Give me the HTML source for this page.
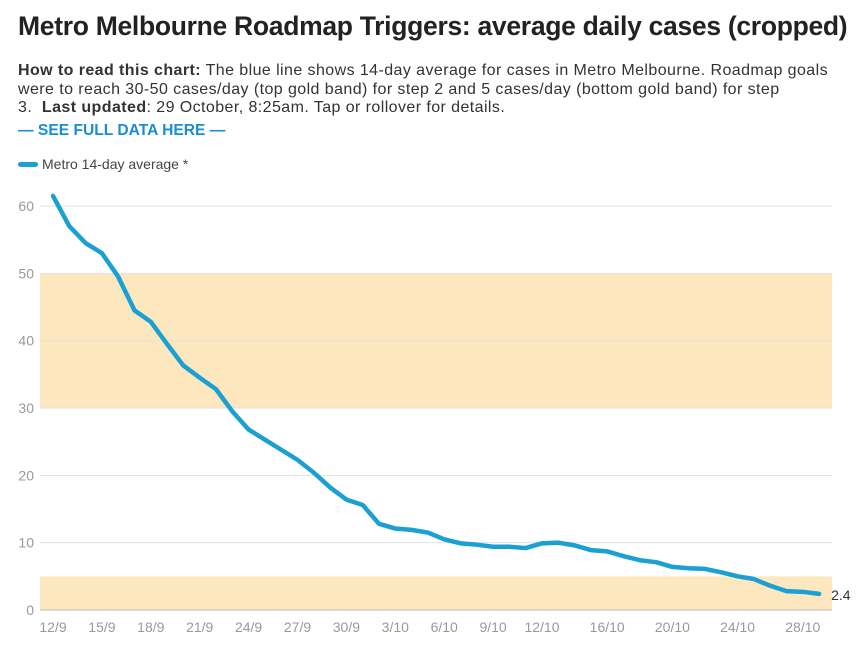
<!DOCTYPE html>
<html><head><meta charset="utf-8"><style>
body{margin:0;background:#fff;font-family:"Liberation Sans",sans-serif;color:#222;width:862px;height:651px;overflow:hidden;position:relative}
#title{position:absolute;left:18px;top:11px;font-size:26.5px;font-weight:bold;color:#222;letter-spacing:-0.3px;white-space:nowrap}
#desc{position:absolute;left:18px;top:62px;font-size:16px;line-height:18.5px;color:#333;white-space:nowrap;letter-spacing:0.42px}
#link{position:absolute;left:18px;top:122px;font-size:15.6px;font-weight:bold;color:#1a8fd0}
#legend{position:absolute;left:18px;top:156px;font-size:14px;color:#444;display:flex;align-items:center}
#legend span.sw{display:inline-block;width:20px;height:5px;border-radius:3px;background:#1aa0d2;margin-right:4px}
svg{position:absolute;left:0;top:0}
</style></head><body>
<div id="title">Metro Melbourne Roadmap Triggers: average daily cases (cropped)</div>
<div id="desc"><b>How to read this chart:</b> The blue line shows 14-day average for cases in Metro Melbourne. Roadmap goals<br>were to reach 30-50 cases/day (top gold band) for step 2 and 5 cases/day (bottom gold band) for step<br>3.&nbsp; <b>Last updated</b>: 29 October, 8:25am. Tap or rollover for details.</div>
<div id="link">— SEE FULL DATA HERE —</div>
<div id="legend"><span class="sw"></span>Metro 14-day average *</div>
<svg id="chart" width="862" height="651"></svg>
<script>
const dates=["12/9","13/9","14/9","15/9","16/9","17/9","18/9","19/9","20/9","21/9","22/9","23/9","24/9","25/9","26/9","27/9","28/9","29/9","30/9","1/10","2/10","3/10","4/10","5/10","6/10","7/10","8/10","9/10","10/10","11/10","12/10","13/10","14/10","15/10","16/10","17/10","18/10","19/10","20/10","21/10","22/10","23/10","24/10","25/10","26/10","27/10","28/10","29/10"];
const values=[61.5,57,54.5,53,49.5,44.5,42.8,39.5,36.3,34.5,32.8,29.5,26.8,25.3,23.8,22.3,20.4,18.2,16.4,15.6,12.8,12.1,11.9,11.5,10.5,9.9,9.7,9.4,9.4,9.2,9.9,10.0,9.6,8.9,8.7,8.0,7.4,7.1,6.4,6.2,6.1,5.6,5.0,4.6,3.6,2.8,2.7,2.4];
const xTicks=["12/9","15/9","18/9","21/9","24/9","27/9","30/9","3/10","6/10","9/10","12/10","16/10","20/10","24/10","28/10"];
const yTicks=[0,10,20,30,40,50,60];
const bands=[[30,50],[0,5]];
const svg=document.getElementById('chart');const NS="http://www.w3.org/2000/svg";
const X0=53,DX=16.3,Y0=610,PY=6.733,L=40,R=832;
const x=i=>X0+i*DX, y=v=>Y0-v*PY;
function mk(t,a,p){const e=document.createElementNS(NS,t);for(const k in a)e.setAttribute(k,a[k]);(p||svg).appendChild(e);return e;}
bands.forEach(b=>{const r=mk('rect',{x:L,y:y(b[1]),width:R-L,height:y(b[0])-y(b[1]),fill:'#fde7bf'});

});
yTicks.forEach(t=>{const g=mk('line',{x1:L,x2:R,y1:y(t),y2:y(t),stroke:t==0?'#bbb':'#e2e2e2','stroke-width':1});


const tx=mk('text',{x:34,y:y(t)+5,'text-anchor':'end','font-size':14,fill:'#999','font-family':'Liberation Sans'});tx.textContent=t;

});
xTicks.forEach(t=>{const i=dates.indexOf(t);const tx=mk('text',{x:x(i),y:632,'text-anchor':'middle','font-size':14,fill:'#999','font-family':'Liberation Sans'});tx.textContent=t;

});
const p=mk('polyline',{points:values.map((v,i)=>x(i)+','+y(v)).join(' '),fill:'none',stroke:'#1aa0d2','stroke-width':4.5,'stroke-linejoin':'round','stroke-linecap':'round'});


const n=values.length-1;const lb=mk('text',{x:x(n)+12,y:y(values[n])+6,'font-size':14,fill:'#333','font-family':'Liberation Sans'});lb.textContent=values[n];


</script>
</body></html>
